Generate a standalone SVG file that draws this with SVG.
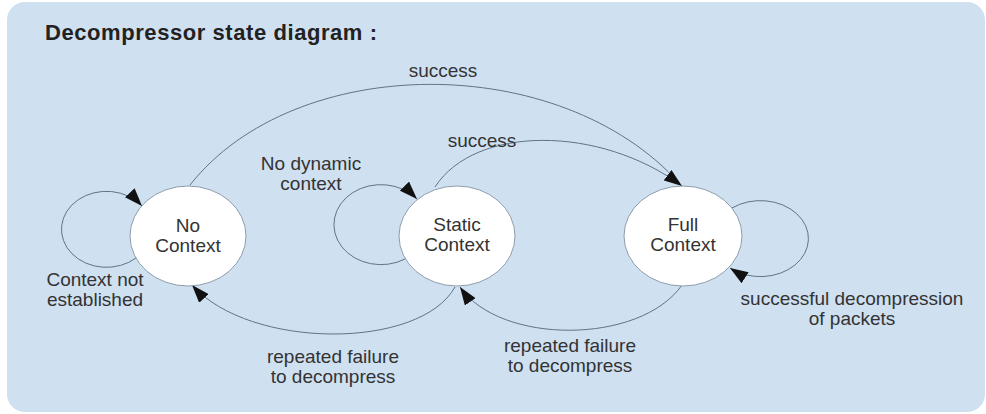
<svg xmlns="http://www.w3.org/2000/svg" width="986" height="414" viewBox="0 0 986 414">
  <style>
    .lbl { font-family: "Liberation Sans", Arial, sans-serif; font-size: 19px; fill: #333; text-anchor: middle; }
    .title { font-family: "Liberation Sans", Arial, sans-serif; font-size: 22px; font-weight: bold; fill: #222; }
    .state { fill: #ffffff; stroke: #8d9cab; stroke-width: 1; }
    .edge { fill: none; stroke: #5f7488; stroke-width: 1; }
  </style>
  <defs>
    <marker id="arrow" markerUnits="userSpaceOnUse" markerWidth="18" markerHeight="13" refX="18" refY="6.5" orient="auto">
      <path d="M0,0 L18,6.5 L0,13 z" fill="#111"/>
    </marker>
  </defs>

  <!-- panel background -->
  <rect x="7" y="2" width="978" height="410" rx="18" ry="18" fill="#cfe0f1"/>

  <text class="title" x="45" y="40" textLength="332">Decompressor state diagram :</text>

  <!-- transitions -->
  <g id="connectors">
    <!-- No Context -> Full Context -->
    <path class="edge" d="M190,185 C295,52 560,50 680,184"/>
    <!-- Static Context -> Full Context -->
    <path class="edge" d="M435,187 C475,125 600,125 682,186" marker-end="url(#arrow)"/>
    <!-- No Context self loop -->
    <path class="edge" d="M136,258 A45,38 0 1 1 142,206" marker-end="url(#arrow)"/>
    <!-- Static Context self loop -->
    <path class="edge" d="M405,259 A47,40 0 1 1 417,199" marker-end="url(#arrow)"/>
    <!-- Full Context self loop -->
    <path class="edge" d="M732,208 A48,38 0 1 1 730,268" marker-end="url(#arrow)"/>
    <!-- Static Context -> No Context -->
    <path class="edge" d="M455,287 C420,350 250,350 192,285" marker-end="url(#arrow)"/>
    <!-- Full Context -> Static Context -->
    <path class="edge" d="M682,285 C640,345 500,345 460,287" marker-end="url(#arrow)"/>
  </g>

  <!-- states -->
  <g id="no-context">
    <ellipse class="state" cx="188" cy="236" rx="58" ry="50"/>
    <text class="lbl" x="188" y="232">No</text>
    <text class="lbl" x="188" y="252">Context</text>
  </g>
  <g id="static-context">
    <ellipse class="state" cx="457" cy="236" rx="58" ry="50"/>
    <text class="lbl" x="457" y="231">Static</text>
    <text class="lbl" x="457" y="251">Context</text>
  </g>
  <g id="full-context">
    <ellipse class="state" cx="683" cy="236" rx="59" ry="50"/>
    <text class="lbl" x="683" y="231">Full</text>
    <text class="lbl" x="683" y="251">Context</text>
  </g>

  <!-- transition labels -->
  <g id="labels">
    <text class="lbl" x="443" y="77">success</text>
    <text class="lbl" x="482" y="147">success</text>
    <text class="lbl" x="311" y="170">No dynamic</text>
    <text class="lbl" x="311" y="190">context</text>
    <text class="lbl" x="95" y="286">Context not</text>
    <text class="lbl" x="95" y="306">established</text>
    <text class="lbl" x="852" y="305">successful decompression</text>
    <text class="lbl" x="852" y="325">of packets</text>
    <text class="lbl" x="333" y="363">repeated failure</text>
    <text class="lbl" x="333" y="383">to decompress</text>
    <text class="lbl" x="570" y="352">repeated failure</text>
    <text class="lbl" x="570" y="372">to decompress</text>
  </g>
</svg>
